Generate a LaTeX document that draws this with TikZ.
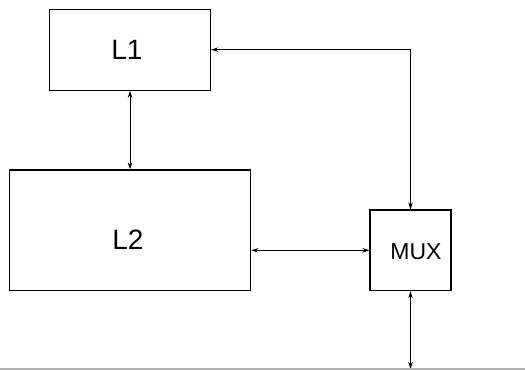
\documentclass[tikz,border=0pt]{standalone}
\usepackage{fontspec}
\setmainfont{Liberation Sans}
\usetikzlibrary{arrows.meta}
\begin{document}
\begin{tikzpicture}[x=1pt,y=-1pt,
  box/.style={draw,line width=1.1pt,rectangle,inner sep=0pt},
  conn/.style={line width=0.9pt,{Stealth[length=7pt,width=4.5pt]}-{Stealth[length=7pt,width=4.5pt]}},
  lbl/.style={inner sep=0pt,font=\fontsize{28}{30}\selectfont},
  mlbl/.style={inner sep=0pt,font=\fontsize{23}{25}\selectfont}]
\useasboundingbox (0,0) rectangle (525,370);
\node[box,minimum width=161pt,minimum height=81pt] (L1) at (130,49.7) {};
\node[box,minimum width=241.4pt,minimum height=120.7pt] (L2) at (130,230.3) {};
\node[box,minimum width=81pt,minimum height=80.7pt] (MUX) at (410.5,250.3) {};
\node[lbl] (t1) at (127,49.5) {L1};
\node[lbl] (t2) at (128,239.5) {L2};
\node[mlbl] (t3) at (416,251.5) {MUX};
\coordinate (bot) at (410.5,369);
\draw[conn] (L1.south) -- (L2.north);
\draw[conn] (L1.east) -| (MUX.north);
\draw[conn] (MUX.west -| L2.east) -- (MUX.west);
\draw[conn] (MUX.south) -- (bot);
\draw[gray!60,line width=1.5pt] (0,369.2) -- (525,369.2);
\end{tikzpicture}
\end{document}
